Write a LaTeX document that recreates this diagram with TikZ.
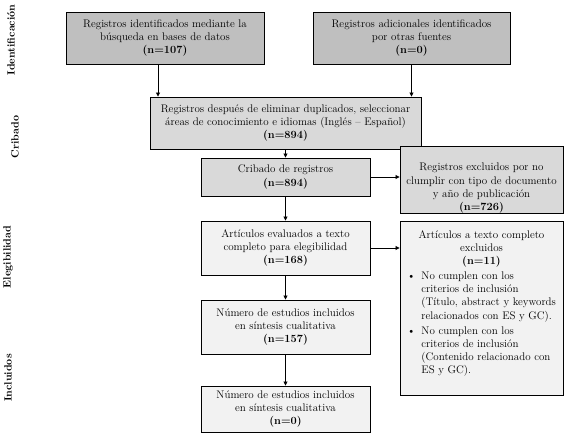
\documentclass[tikz,border=0pt]{standalone}
\usetikzlibrary{arrows.meta}
\definecolor{boxdark}{HTML}{BFBFBF}
\definecolor{boxmid}{HTML}{D9D9D9}
\definecolor{boxlight}{HTML}{F2F2F2}
\begin{document}
\begin{tikzpicture}[x=1pt,y=-1pt,
  box/.style={draw=black,line width=0.9pt,inner sep=0pt,align=center,
    font=\fontsize{11}{13.2}\selectfont},
  arr/.style={-{Triangle[length=4pt,width=4pt]},line width=0.8pt},
  phase/.style={rotate=90,font=\fontsize{10.5}{12}\selectfont\bfseries}]
  \useasboundingbox (0,0) rectangle (570,444);
  % phase labels on the left
  \node[phase] (lid) at (11,40) {Identificación};
  \node[phase] (lcr) at (15,137) {Cribado};
  \node[phase] (lel) at (8,257) {Elegibilidad};
  \node[phase] (lin) at (8,378) {Incluidos};
  % identification row
  \node[box,fill=boxdark,minimum width=198,minimum height=52] (idb) at (165,38)
    {Registros identificados mediante la\\ búsqueda en bases de datos\\ \textbf{(n=107)}};
  \node[box,fill=boxdark,minimum width=197,minimum height=52] (ido) at (411.5,38)
    {Registros adicionales identificados\\ por otras fuentes\\ \textbf{(n=0)}};
  % screening
  \node[box,fill=boxmid,minimum width=271,minimum height=52] (dup) at (285.5,123)
    {Registros después de eliminar duplicados, seleccionar\\ áreas de conocimiento e idiomas (Inglés -- Español)\\ \textbf{(n=894)}};
  \node[box,fill=boxmid,minimum width=169,minimum height=38] (crib) at (285.5,177)
    {Cribado de registros\\ \textbf{(n=894)}};
  \node[box,fill=boxmid,minimum width=163,minimum height=66] (exa) at (481.5,180)
    {\rule{0pt}{24pt}Registros excluidos por no\\ clumplir con tipo de documento\\ y año de publicación\\ \textbf{(n=726)}};
  % eligibility and included
  \node[box,fill=boxlight,minimum width=169,minimum height=54] (eleg) at (285.5,248)
    {Artículos evaluados a texto\\ completo para elegibilidad\\ \textbf{(n=168)}};
  \node[box,fill=boxlight,minimum width=163,minimum height=174] (exb) at (481.5,308)
    {Artículos a texto completo\\ excluidos\\ \textbf{(n=11)}\\[2pt]
     \begin{tabular}{@{}l@{\hspace{6pt}}l@{}}
       \textbullet & No cumplen con los\\
                   & criterios de inclusión\\
                   & (Título, abstract y keywords\\
                   & relacionados con ES y GC).\\[2pt]
       \textbullet & No cumplen con los\\
                   & criterios de inclusión\\
                   & (Contenido relacionado con\\
                   & ES y GC).\rule[-12pt]{0pt}{12pt}
     \end{tabular}};
  \node[box,fill=boxlight,minimum width=169,minimum height=54] (incl) at (285.5,327)
    {Número de estudios incluidos\\ en síntesis cualitativa\\ \textbf{(n=157)}};
  \node[box,fill=boxlight,minimum width=169,minimum height=46] (inz) at (285.5,409)
    {Número de estudios incluidos\\ en síntesis cualitativa\\ \textbf{(n=0)}};
  % arrows
  \draw[arr] ([xshift=-7pt]idb.south) -- ([xshift=-7pt]idb.south |- dup.north);
  \draw[arr] (ido.south) -- (ido.south |- dup.north);
  \draw[arr] (dup.south) -- (crib.north);
  \draw[arr] (crib.east) -- (crib.east -| exa.west);
  \draw[arr] (crib.south) -- (eleg.north);
  \draw[arr] (eleg.east) -- (eleg.east -| exb.west);
  \draw[arr] (eleg.south) -- (incl.north);
  \draw[arr] (incl.south) -- (inz.north);
\end{tikzpicture}
\end{document}
